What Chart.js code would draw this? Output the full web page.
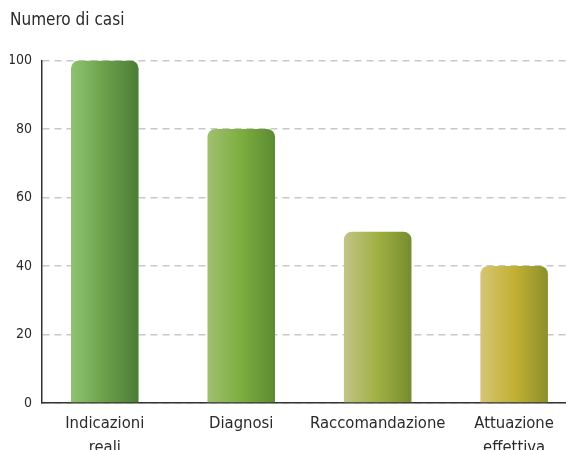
<!DOCTYPE html>
<html>
<head>
<meta charset="utf-8">
<script src="https://cdn.jsdelivr.net/npm/chart.js@4/dist/chart.umd.min.js"></script>
<style>
  html, body { margin: 0; padding: 0; background: #fff; overflow: hidden; }
  #wrap { width: 566px; height: 450px; }
</style>
</head>
<body>
<div id="wrap"><canvas id="grafico" width="566" height="450"></canvas></div>
<script>
// Dati del grafico
const categorie = [['Indicazioni', 'reali'], 'Diagnosi', 'Raccomandazione', ['Attuazione', 'effettiva']];
const numeroCasi = [100, 80, 50, 40];
const tickY = [0, 20, 40, 60, 80, 100];
const titoloAsse = 'Numero di casi';

// Colori delle sfumature (sinistra, centro, destra)
const sfumature = [
    ['#8ec471', '#6c9f4a', '#4a7d35'],
    ['#a0c070', '#7cae3f', '#5c8a32'],
    ['#c3c486', '#a0b043', '#758b2e'],
    ['#d6c575', '#c2b133', '#8b8f2c']
];

const FONT = "'Liberation Sans Narrow', 'DejaVu Sans Condensed', 'Roboto', sans-serif";

function coloreBarra(ctx) {
    const chart = ctx.chart;
    const xs = chart.scales.x;
    if (!xs || !chart.chartArea) return sfumature[ctx.dataIndex][1];
    const cx = xs.getPixelForValue(ctx.dataIndex);
    const g = chart.ctx.createLinearGradient(cx - 34, 0, cx + 34, 0);
    const c = sfumature[ctx.dataIndex];
    g.addColorStop(0, c[0]);
    g.addColorStop(0.5, c[1]);
    g.addColorStop(1, c[2]);
    return g;
}

const ctx = document.getElementById('grafico').getContext('2d');
new Chart(ctx, {
    type: 'bar',
    data: {
        datasets: [{
            data: numeroCasi.map((v, i) => ({ x: i, y: v })),
            backgroundColor: coloreBarra,
            borderWidth: 0,
            borderRadius: { topLeft: 8, topRight: 8, bottomLeft: 0, bottomRight: 0 },
            borderSkipped: false,
            categoryPercentage: 1,
            barPercentage: 0.495
        }]
    },
    options: {
        responsive: false,
        animation: false,
        layout: { padding: { left: 10, right: 0, top: 0, bottom: 0 } },
        plugins: {
            legend: { display: false },
            tooltip: { enabled: false },
            title: {
                display: true,
                text: titoloAsse,
                align: 'start',
                color: '#2a2a2a',
                font: { family: FONT, size: 17, weight: 'normal', lineHeight: 1.2 },
                padding: { top: 10, bottom: 30 }
            }
        },
        scales: {
            x: {
                type: 'linear',
                offset: false,
                min: -0.46,
                max: 3.38,
                afterBuildTicks: s => { s.ticks = categorie.map((c, i) => ({ value: i })); },
                afterFit: s => { s.height = 47; },
                grid: { display: false, drawTicks: false, offset: false },
                border: { display: true, color: '#333', width: 1.5 },
                ticks: {
                    padding: 9,
                    maxRotation: 0,
                    minRotation: 0,
                    autoSkip: false,
                    color: '#2a2a2a',
                    font: { family: FONT, size: 16.5, lineHeight: 1.45 },
                    callback: v => categorie[v] ?? ''
                }
            },
            y: {
                min: 0,
                max: 100,
                afterBuildTicks: s => { s.ticks = tickY.map(v => ({ value: v })); },
                afterFit: s => { s.width = 32; },
                grid: {
                    color: '#c8c8c8',
                    lineWidth: 1.5,
                    drawTicks: false
                },
                border: { display: true, color: '#333', width: 1.5, dash: [7, 5] },
                ticks: {
                    padding: 10,
                    color: '#2a2a2a',
                    font: { family: FONT, size: 14 }
                }
            }
        }
    }
});
</script>
</body>
</html>
